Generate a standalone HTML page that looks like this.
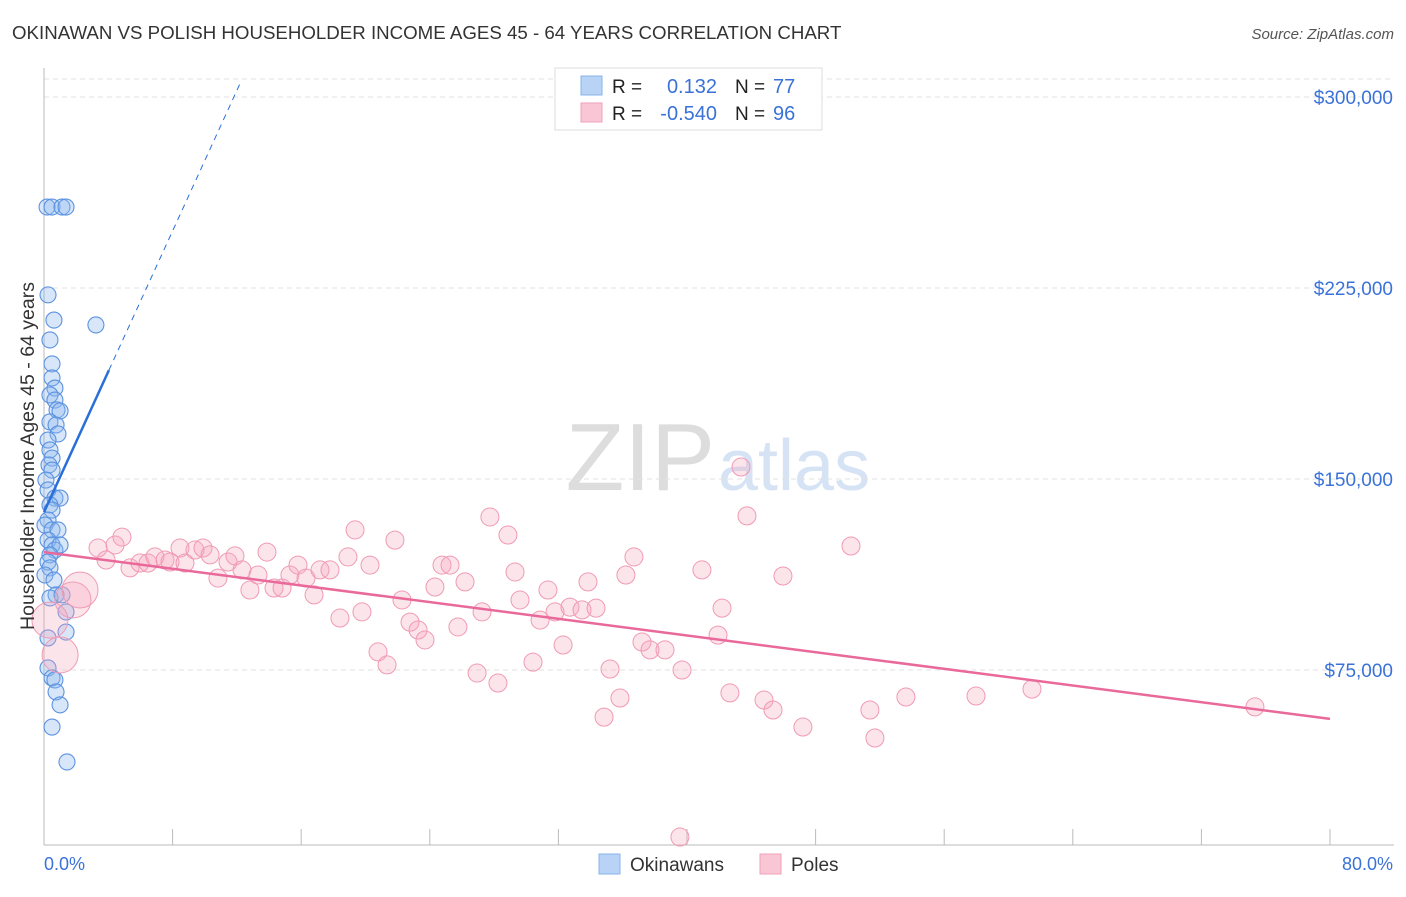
<!DOCTYPE html>
<html><head><meta charset="utf-8"><style>
body{margin:0;background:#fff;font-family:"Liberation Sans",sans-serif;}
svg text{font-family:"Liberation Sans",sans-serif;}
</style></head><body>
<svg id="c" width="1406" height="892">
<text x="12" y="39" font-size="18.7" fill="#333">OKINAWAN VS POLISH HOUSEHOLDER INCOME AGES 45 - 64 YEARS CORRELATION CHART</text>
<text x="1394" y="39" font-size="15" fill="#555" font-style="italic" text-anchor="end">Source: ZipAtlas.com</text>
<text x="715" y="490" font-size="96" fill="#ddd" font-family="Liberation Serif" text-anchor="end">ZIP</text>
<text x="718" y="490" font-size="72" fill="#d6e3f5">atlas</text>
<g id="grid"></g>
<g id="marks"></g>
<text transform="translate(34,456) rotate(-90)" font-size="19.5" fill="#333" text-anchor="middle">Householder Income Ages 45 - 64 years</text>
<text x="44" y="870" font-size="18" fill="#3a72d8">0.0%</text>
<text x="1393" y="870" font-size="18" fill="#3a72d8" text-anchor="end">80.0%</text>
<g>
<rect x="555" y="68" width="267" height="62" fill="#fff" stroke="#ddd"/>
<rect x="581" y="76" width="21" height="19" fill="#b8d3f5" stroke="#8ab3ea"/>
<rect x="581" y="103" width="21" height="19" fill="#f8c6d5" stroke="#f0a0b8"/>
<text x="612" y="93" font-size="19" fill="#222">R =</text>
<text x="717" y="93" font-size="20" fill="#3a72d8" text-anchor="end">0.132</text>
<text x="735" y="93" font-size="19" fill="#222">N =</text>
<text x="773" y="93" font-size="20" fill="#3a72d8">77</text>
<text x="612" y="120" font-size="19" fill="#222">R =</text>
<text x="717" y="120" font-size="20" fill="#3a72d8" text-anchor="end">-0.540</text>
<text x="735" y="120" font-size="19" fill="#222">N =</text>
<text x="773" y="120" font-size="20" fill="#3a72d8">96</text>
</g>
<g>
<rect x="599" y="854" width="21" height="20" fill="#b8d3f5" stroke="#8ab3ea"/>
<text x="630" y="871" font-size="19" fill="#333">Okinawans</text>
<rect x="760" y="854" width="21" height="20" fill="#f8c6d5" stroke="#f0a0b8"/>
<text x="791" y="871" font-size="19" fill="#333">Poles</text>
</g>
</svg>
<script>
const yTicks=[75000,150000,225000,300000];
const yTickLabels=["$75,000","$150,000","$225,000","$300,000"];
const xTicks=[0,8,16,24,32,40,48,56,64,72,80];
const blueX=[0.19,0.5,1.12,1.37,0.25,0.62,3.23,0.37,0.5,0.5,0.68,0.37,0.68,0.81,1.0,0.37,0.75,0.87,0.25,0.37,0.5,0.31,0.5,0.12,0.25,0.68,1.0,0.37,0.5,0.25,0.06,0.5,0.87,0.25,0.5,0.68,1.0,0.37,0.25,0.37,0.06,0.62,0.75,0.37,1.12,1.37,1.37,0.25,0.25,0.5,0.68,0.75,1.0,0.5,1.43];
const blueY=[256800,256800,256800,256800,222300,212400,210500,204600,195200,189700,185700,183000,181000,177100,176700,172400,171200,167700,165300,161400,158200,155500,153500,149600,145700,142500,142500,139800,137800,133900,131900,130000,130000,126000,124100,122100,124100,120200,117400,115100,112300,110300,104500,103300,104500,97800,89900,87600,75800,71900,71100,66400,61300,52600,38900];
const pinkX=[1.8,1.0,0.37,2.24,3.36,4.42,4.85,3.86,5.35,5.97,6.47,6.9,7.53,7.84,8.46,8.77,9.39,9.89,10.33,10.82,11.45,11.88,12.32,12.81,13.31,13.87,14.31,14.81,15.3,15.8,16.3,16.8,17.17,17.79,18.41,18.91,19.35,19.78,20.28,20.78,21.34,21.83,22.27,22.77,23.27,23.7,24.32,24.76,25.26,25.75,26.19,26.94,27.25,27.74,28.24,28.86,29.3,29.61,30.42,30.86,31.35,31.79,32.29,32.72,33.47,33.84,34.34,34.84,35.21,35.83,36.2,36.7,37.2,37.7,38.63,39.69,39.56,40.93,42.18,41.93,42.67,43.36,43.73,44.79,45.35,45.97,47.21,50.2,51.38,51.69,53.62,57.98,61.46,75.33];
const pinkY=[102500,80900,94600,106400,122900,124100,127200,118200,115100,117000,117000,119400,118200,117400,122900,117000,122100,122900,120200,111100,117400,119800,114300,106400,112300,121300,107200,107200,112300,116200,111100,104500,114300,114300,95400,119400,130000,97800,116200,82100,77000,126000,102500,93800,90700,86800,107600,116200,116200,91900,109600,73800,97800,135100,69900,128000,113500,102500,78100,94600,106400,97800,84800,99700,98600,109600,99300,56500,75400,64000,112300,119400,86000,82900,82900,75000,9400,114300,99300,88700,66000,154700,135500,63200,59300,111900,52600,123700,59300,48300,64400,64800,67500,60500];
const pinkBig=[0,1,2,3];
const blueTrend=[137000,13800];
const pinkTrend=[121300,55800];
const X=v=>44+v*1286/80;
const Y=v=>670-(v-75000)*191/75000;
const NS="http://www.w3.org/2000/svg";
function mk(tag,at,parent){const e=document.createElementNS(NS,tag);for(const k in at)e.setAttribute(k,at[k]);parent.appendChild(e);return e;}
const g=document.getElementById('grid'),m=document.getElementById('marks');
let e=mk('line',{x1:44,x2:1394,y1:79,y2:79,stroke:'#e2e2e2','stroke-dasharray':'5,4'},g);


yTicks.forEach((t,i)=>{
 let l=mk('line',{x1:44,x2:1394,y1:Y(t),y2:Y(t),stroke:'#e2e2e2','stroke-dasharray':'5,4'},g);
 
 
 let tx=mk('text',{x:1393,y:Y(t)+7,'font-size':19,fill:'#3a72d8','text-anchor':'end'},g);
 tx.textContent=yTickLabels[i];
 
 
});
e=mk('line',{x1:44,x2:44,y1:68,y2:845,stroke:'#bbb'},g);


e=mk('line',{x1:44,x2:1394,y1:845,y2:845,stroke:'#bbb'},g);


xTicks.forEach(t=>{
 let l=mk('line',{x1:X(t),x2:X(t),y1:829,y2:845,stroke:'#bbb'},g);
 
 
});
blueX.forEach((x,i)=>{
 let c=mk('circle',{cx:X(x),cy:Y(blueY[i]),r:8,fill:'rgba(140,182,238,0.35)',stroke:'#5b92e0','stroke-width':1.1},m);
 
 
});
pinkX.forEach((x,i)=>{
 let r=pinkBig.includes(i)?18:9;
 let c=mk('circle',{cx:X(x),cy:Y(pinkY[i]),r:r,fill:'rgba(245,165,190,0.3)',stroke:'#f09ab4','stroke-width':1},m);
 
 
});
e=mk('line',{x1:X(0),y1:Y(blueTrend[0]),x2:X(4.04),y2:Y(blueTrend[0]+blueTrend[1]*4.04),stroke:'#2a6fd9','stroke-width':2.5},m);


e=mk('line',{x1:X(4.04),y1:Y(blueTrend[0]+blueTrend[1]*4.04),x2:X(12.2),y2:Y(blueTrend[0]+blueTrend[1]*12.2),stroke:'#2a6fd9','stroke-width':1,'stroke-dasharray':'6,5'},m);


e=mk('line',{x1:X(0),y1:Y(pinkTrend[0]),x2:X(80),y2:Y(pinkTrend[1]),stroke:'#e8699a','stroke-width':2.5},m);


</script>
</body></html>
